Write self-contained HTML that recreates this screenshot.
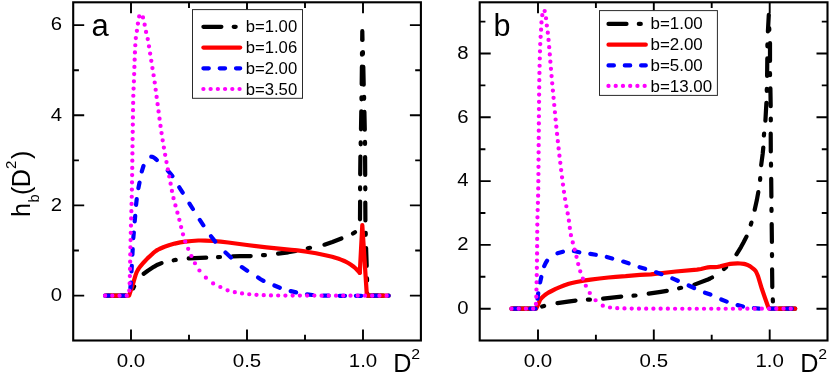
<!DOCTYPE html>
<html><head><meta charset="utf-8"><title>h_b(D^2)</title>
<style>
html,body{margin:0;padding:0;background:#fff;}
svg{display:block;will-change:transform;}
text{font-family:"Liberation Sans",sans-serif;fill:#000;}
</style></head><body>
<svg width="830" height="382" viewBox="0 0 830 382">
<rect width="830" height="382" fill="#fff"/>
<g id="panelA">
<path d="M107.5,295.7L125.5,295.7M133.2,288.4L134.1,286.4M143.7,273.7L147.8,270.7L153.8,266.8L157.6,264.7L161.5,263.1M173.7,260.3L175.7,259.9M188.7,258.4L206.2,257.7M218.0,257.1L220.0,257.0M232.7,256.4L239.9,256.2L250.7,256.1M263.0,255.2L264.9,255.1M278.1,253.7L288.2,252.3L295.8,250.9M307.8,248.3L310.0,247.8M324.5,244.7L332.4,242.0L341.4,238.5M353.0,233.5L355.0,232.2M360.0,219.3L360.1,201.5M360.1,189.3L360.1,187.4M360.2,174.3L360.4,156.5M360.7,144.3L360.7,142.3M361.0,129.3L361.3,111.4M361.5,99.3L361.5,97.3M361.7,84.2L361.9,66.7M362.0,54.7L362.0,52.8M362.2,40.0L362.3,31.2L362.5,40.0M362.9,52.0L362.9,53.9M363.3,66.8L363.7,84.7M364.1,96.8L364.1,98.8M364.4,111.9L364.8,129.7M365.0,141.9L365.0,143.9M365.1,157.0L365.2,175.0M365.3,187.3L365.3,189.3M365.3,202.5L365.4,220.5M365.7,232.8L365.7,234.8M366.1,248.0L366.7,266.0M367.0,278.3L367.1,280.3M367.4,293.5L367.5,295.7L383.3,295.7" fill="none" stroke="#000" stroke-width="4.2" stroke-linecap="round" stroke-linejoin="round"/>
<path d="M105.1,295.7L129.1,295.7L133.7,281.5L135.5,275.4L136.6,272.4L137.9,269.9L138.5,268.9L139.9,266.9L143.9,262.2L147.5,258.4L153.1,253.2L154.5,252.0L156.0,250.9L157.6,249.9L159.3,249.0L163.9,247.0L167.4,245.8L169.7,245.0L174.7,243.6L180.2,242.4L185.2,241.7L191.7,241.0L198.3,240.5L200.5,240.5L205.5,240.6L213.1,241.0L220.6,241.7L228.2,242.5L247.0,245.0L266.5,247.4L278.9,248.7L291.2,249.8L297.3,250.4L306.6,251.7L316.0,253.3L325.4,255.2L332.1,256.8L338.7,258.8L340.9,259.6L344.3,261.0L345.6,261.6L348.2,263.0L350.6,264.5L353.0,266.2L354.0,267.0L356.0,268.8L359.8,272.8" fill="none" stroke="#ff0000" stroke-width="4.2" stroke-linecap="round" stroke-linejoin="round"/>
<path d="M359.8,272.8L362.3,225.1L366.8,294.5L367.5,295.7L388.7,295.7" fill="none" stroke="#ff0000" stroke-width="4.2" stroke-linecap="round" stroke-linejoin="round"/>
<path d="M105.1,295.7L109.1,295.7M120.2,295.7L125.7,295.7M130.4,288.0L130.9,282.5M131.5,271.4L131.8,265.9M132.4,254.7L132.7,249.2M133.3,238.1L133.8,232.5M134.7,221.4L135.2,215.9M136.1,204.8L136.7,199.2M138.4,188.1L139.5,182.6M141.8,171.4L143.5,165.9M151.3,156.7L152.5,156.9L154.0,157.6L155.3,158.6L156.8,160.0M167.8,170.6L170.2,173.4L172.4,176.1M179.3,187.3L182.7,192.7M189.5,203.6L192.9,209.0M199.8,219.9L203.4,225.3M211.0,236.2L215.2,241.6M225.5,252.4L230.9,257.6M241.8,267.1L247.2,270.7M258.1,277.5L260.6,279.2L263.5,280.9M274.4,285.5L279.8,287.8M290.7,291.1L296.1,292.4M307.0,294.3L312.4,295.0M323.3,295.6L328.7,295.7M339.6,295.8L345.0,295.8M355.9,295.8L361.3,295.8M372.2,295.7L377.6,295.7M388.5,295.7L388.7,295.7" fill="none" stroke="#0000ff" stroke-width="4.2" stroke-linecap="round" stroke-linejoin="round"/>
<path d="M105.05,295.70h0.1M112.26,295.70h0.1M119.48,295.70h0.1M126.69,295.70h0.1M129.20,290.54h0.1M129.60,283.33h0.1M129.80,276.11h0.1M129.97,268.90h0.1M130.11,261.69h0.1M130.25,254.47h0.1M130.39,247.26h0.1M130.55,240.04h0.1M130.73,232.83h0.1M130.93,225.61h0.1M131.13,218.40h0.1M131.33,211.19h0.1M131.52,203.97h0.1M131.70,196.76h0.1M131.86,189.54h0.1M131.99,182.33h0.1M132.10,175.11h0.1M132.20,167.90h0.1M132.28,160.69h0.1M132.37,153.47h0.1M132.46,146.26h0.1M132.56,139.04h0.1M132.67,131.83h0.1M132.77,124.61h0.1M132.87,117.40h0.1M132.98,110.19h0.1M133.11,102.97h0.1M133.26,95.76h0.1M133.54,88.54h0.1M133.86,81.33h0.1M134.12,74.11h0.1M134.36,66.90h0.1M134.60,59.69h0.1M134.89,52.47h0.1M135.25,45.26h0.1M135.77,38.04h0.1M136.86,30.83h0.1M137.86,23.61h0.1M139.15,16.40h0.1M142.92,17.43h0.1M144.60,24.66h0.1M146.01,31.89h0.1M147.69,39.12h0.1M148.94,46.35h0.1M150.09,53.58h0.1M151.24,60.81h0.1M152.37,68.04h0.1M153.55,75.27h0.1M154.66,82.50h0.1M155.63,89.73h0.1M156.58,96.96h0.1M157.55,104.19h0.1M158.51,111.42h0.1M159.47,118.65h0.1M160.46,125.88h0.1M161.50,133.11h0.1M162.61,140.34h0.1M163.82,147.57h0.1M165.10,154.80h0.1M166.44,162.03h0.1M167.81,169.26h0.1M169.19,176.49h0.1M170.56,183.72h0.1M171.89,190.95h0.1M173.46,198.18h0.1M175.39,205.41h0.1M177.37,212.64h0.1M179.30,219.87h0.1M181.09,227.10h0.1M182.96,234.33h0.1M185.18,241.56h0.1M188.12,248.79h0.1M191.33,256.02h0.1M194.90,263.25h0.1M199.39,270.48h0.1M205.84,277.71h0.1M213.07,283.38h0.1M220.30,286.99h0.1M227.53,290.29h0.1M234.76,292.13h0.1M241.99,293.39h0.1M249.22,294.25h0.1M256.45,294.85h0.1M263.68,295.21h0.1M270.91,295.41h0.1M278.14,295.52h0.1M285.37,295.58h0.1M292.60,295.59h0.1M299.83,295.59h0.1M307.06,295.60h0.1M314.29,295.62h0.1M321.52,295.64h0.1M328.75,295.66h0.1M335.98,295.67h0.1M343.21,295.68h0.1M350.44,295.68h0.1M357.67,295.69h0.1M364.90,295.69h0.1M372.13,295.69h0.1M379.36,295.69h0.1M386.59,295.70h0.1" fill="none" stroke="#ff00ff" stroke-width="4.2" stroke-linecap="round" stroke-linejoin="round"/>
<rect x="73.2" y="2.3" width="347.7" height="338.2" fill="none" stroke="#000" stroke-width="2.1"/>
<path d="M131,340.5v-11.0M131,2.3v11.0M247,340.5v-11.0M247,2.3v11.0M363,340.5v-11.0M363,2.3v11.0M189,340.5v-5.7M189,2.3v5.7M305,340.5v-5.7M305,2.3v5.7M73.2,295.6h11.0M420.9,295.6h-11.0M73.2,205.4h11.0M420.9,205.4h-11.0M73.2,115.3h11.0M420.9,115.3h-11.0M73.2,25.1h11.0M420.9,25.1h-11.0M73.2,250.5h5.7M420.9,250.5h-5.7M73.2,160.4h5.7M420.9,160.4h-5.7M73.2,70.2h5.7M420.9,70.2h-5.7" stroke="#000" stroke-width="1.9" fill="none"/>
<text transform="translate(62.0,30.400000000000002) scale(1.08,1)" font-size="18.8" text-anchor="end">6</text>
<text transform="translate(62.0,120.6) scale(1.08,1)" font-size="18.8" text-anchor="end">4</text>
<text transform="translate(62.0,210.70000000000002) scale(1.08,1)" font-size="18.8" text-anchor="end">2</text>
<text transform="translate(62.0,300.90000000000003) scale(1.08,1)" font-size="18.8" text-anchor="end">0</text>
<text transform="translate(131,367.4) scale(1.09,1)" font-size="18.8" text-anchor="middle">0.0</text>
<text transform="translate(247,367.4) scale(1.09,1)" font-size="18.8" text-anchor="middle">0.5</text>
<text transform="translate(363,367.4) scale(1.09,1)" font-size="18.8" text-anchor="middle">1.0</text>
<text transform="translate(91.5,36.2) scale(1.0,1)" font-size="31" text-anchor="start">a</text>
<rect x="192.5" y="9.6" width="110.0" height="88.7" fill="#fff" stroke="#2a2a2a" stroke-width="1"/>
<path d="M203.4,26.8L221.4,26.8M233.7,26.8L235.7,26.8" fill="none" stroke="#000" stroke-width="4.2" stroke-linecap="round" stroke-linejoin="round"/>
<text transform="translate(245.7,31.7) scale(1.07,1)" font-size="15.6" text-anchor="start">b=1.00</text>
<path d="M203.4,47.6L240.2,47.6" fill="none" stroke="#ff0000" stroke-width="4.2" stroke-linecap="round" stroke-linejoin="round"/>
<text transform="translate(245.7,52.7) scale(1.07,1)" font-size="15.6" text-anchor="start">b=1.06</text>
<path d="M203.4,68.3L208.8,68.3M219.7,68.3L225.1,68.3M236.0,68.3L240.2,68.3" fill="none" stroke="#0000ff" stroke-width="4.2" stroke-linecap="round" stroke-linejoin="round"/>
<text transform="translate(245.7,73.5) scale(1.07,1)" font-size="15.6" text-anchor="start">b=2.00</text>
<path d="M203.35,89.00h0.1M210.58,89.00h0.1M217.81,89.00h0.1M225.04,89.00h0.1M232.27,89.00h0.1M239.50,89.00h0.1" fill="none" stroke="#ff00ff" stroke-width="4.2" stroke-linecap="round" stroke-linejoin="round"/>
<text transform="translate(245.7,94.5) scale(1.07,1)" font-size="15.6" text-anchor="start">b=3.50</text>
<text transform="translate(393.2,372.2) scale(1.0,1)" font-size="25.2" text-anchor="start">D</text>
<text transform="translate(411.2,358.6) scale(1.12,1)" font-size="14.2" text-anchor="start">2</text>
<text transform="translate(29.5,217.1) rotate(-90)" font-size="25.2">h</text>
<text transform="translate(39.1,202.4) rotate(-90)" font-size="14.6">b</text>
<text transform="translate(29.5,195.0) rotate(-90)" font-size="25.2">(</text>
<text transform="translate(29.5,187.3) rotate(-90)" font-size="25.2">D</text>
<text transform="translate(15.7,169.1) rotate(-90)" font-size="15.0">2</text>
<text transform="translate(29.5,158.9) rotate(-90)" font-size="25.2">)</text>
</g>
<g id="panelB">
<path d="M511.5,308.7L529.7,308.7M542.1,306.5L544.1,305.9M557.5,303.2L567.9,301.6L575.5,300.6M587.9,299.7L589.9,299.6M603.1,298.6L621.2,296.7M633.5,295.7L635.5,295.5M648.7,293.7L660.8,291.9L666.8,290.9M679.1,288.3L681.1,287.8M694.4,284.6L707.3,279.8L710.1,278.5L712.0,277.5M724.0,269.1L726.0,267.2M736.5,254.3L741.0,247.1L743.6,242.3L746.5,236.6M750.8,224.6L751.4,222.6M754.7,209.7L756.8,200.3L758.3,192.1M760.1,180.0L760.2,178.1M761.2,165.1L762.7,153.7L763.3,147.5M763.9,135.5L764.1,133.5M765.4,120.6L766.4,102.9M766.8,90.9L766.8,88.9M767.1,76.0L767.3,58.4M767.4,46.3L767.4,44.4M767.9,31.4L768.8,14.8L768.8,15.8M769.2,28.0L769.3,30.0M770.0,43.1L770.0,61.0M770.0,73.2L770.0,75.2M770.4,88.4L770.7,106.2M770.8,118.5L770.8,120.5M770.7,133.6L770.8,151.5M771.0,163.7L771.0,165.7M771.2,178.8L771.4,196.7M771.5,208.9L771.5,210.9M771.7,224.0L771.9,241.9M772.0,254.1L772.0,256.1M772.1,269.3L772.3,287.1M772.8,299.4L772.9,301.4M779.1,308.7L795.2,308.7" fill="none" stroke="#000" stroke-width="4.2" stroke-linecap="round" stroke-linejoin="round"/>
<path d="M511.5,308.7L536.2,308.7L538.2,304.5L539.8,300.5L540.5,299.3L541.2,298.4L542.5,297.1L544.6,295.2L546.3,294.0L548.6,292.5L551.6,291.0L555.7,288.9L559.2,287.4L564.5,285.3L568.9,283.8L571.9,283.0L576.5,282.0L583.5,280.7L590.6,279.6L599.5,278.5L608.4,277.5L615.7,276.8L625.6,276.2L640.0,274.9L650.8,274.3L675.9,271.5L697.0,269.6L701.0,269.0L706.0,267.8L708.0,267.4L710.3,267.2L715.0,267.2L717.3,267.0L720.2,266.4L727.4,264.5L730.3,263.9L733.4,263.6L737.7,263.4L740.3,263.5L743.9,263.9L746.0,264.4L747.7,265.0L748.8,265.6L749.9,266.2L752.8,268.4L754.4,269.7L755.7,271.2L756.2,272.0L757.1,274.0L758.0,276.1L758.7,278.3L761.3,287.1L762.0,289.3L765.1,298.3L767.5,305.0L768.4,307.4L769.5,308.7L795.2,308.7" fill="none" stroke="#ff0000" stroke-width="4.2" stroke-linecap="round" stroke-linejoin="round"/>
<path d="M513.9,308.7L519.3,308.7M530.2,308.7L535.6,308.7M537.5,298.7L538.2,293.3M540.1,282.4L541.3,277.0M544.2,266.1L545.6,263.2L547.1,260.7M557.5,253.3L562.9,251.7M573.9,251.0L579.3,252.3M590.3,253.9L595.8,254.8M606.8,257.0L612.2,258.5M623.2,261.6L628.6,263.3M639.6,267.2L645.1,268.8M656.1,272.3L661.5,274.2M672.4,278.4L677.8,280.7M688.7,285.5L694.1,288.0M705.0,292.7L710.4,294.6M721.3,299.5L726.7,301.6M737.6,305.1L743.0,306.5M753.9,308.2L759.3,308.6M770.2,308.7L775.6,308.7M786.5,308.7L791.9,308.7" fill="none" stroke="#0000ff" stroke-width="4.2" stroke-linecap="round" stroke-linejoin="round"/>
<path d="M511.45,308.70h0.1M518.67,308.70h0.1M525.89,308.70h0.1M533.10,308.70h0.1M535.93,303.93h0.1M536.24,296.71h0.1M536.42,289.49h0.1M536.57,282.27h0.1M536.71,275.05h0.1M536.83,267.84h0.1M536.94,260.62h0.1M537.03,253.40h0.1M537.09,246.18h0.1M537.14,238.96h0.1M537.20,231.75h0.1M537.28,224.53h0.1M537.41,217.31h0.1M537.62,210.09h0.1M537.86,202.87h0.1M538.07,195.65h0.1M538.20,188.44h0.1M538.30,181.22h0.1M538.38,174.00h0.1M538.44,166.78h0.1M538.50,159.56h0.1M538.56,152.35h0.1M538.61,145.13h0.1M538.68,137.91h0.1M538.74,130.69h0.1M538.80,123.47h0.1M538.86,116.25h0.1M538.92,109.04h0.1M538.99,101.82h0.1M539.06,94.60h0.1M539.15,87.38h0.1M539.25,80.16h0.1M539.39,72.95h0.1M539.55,65.73h0.1M539.73,58.51h0.1M539.94,51.29h0.1M540.19,44.07h0.1M540.59,36.85h0.1M541.04,29.64h0.1M541.44,22.42h0.1M542.25,15.20h0.1M544.61,11.03h0.1M545.97,18.26h0.1M546.77,25.49h0.1M547.74,32.72h0.1M548.49,39.95h0.1M549.14,47.18h0.1M549.74,54.41h0.1M550.32,61.64h0.1M550.90,68.87h0.1M551.51,76.10h0.1M552.16,83.33h0.1M552.83,90.56h0.1M553.52,97.79h0.1M554.20,105.02h0.1M554.88,112.25h0.1M555.56,119.48h0.1M556.27,126.71h0.1M557.00,133.94h0.1M557.77,141.17h0.1M558.57,148.40h0.1M559.39,155.63h0.1M560.24,162.86h0.1M561.10,170.09h0.1M562.00,177.32h0.1M562.94,184.55h0.1M563.92,191.78h0.1M565.04,199.01h0.1M566.32,206.24h0.1M567.64,213.47h0.1M568.85,220.70h0.1M569.77,227.93h0.1M570.88,235.16h0.1M572.70,242.39h0.1M574.59,249.62h0.1M576.46,256.85h0.1M578.17,264.08h0.1M580.20,271.31h0.1M582.81,278.54h0.1M585.77,285.77h0.1M589.74,293.00h0.1M595.52,300.23h0.1M602.74,305.68h0.1M609.97,307.51h0.1M617.20,308.17h0.1M624.43,308.43h0.1M631.66,308.59h0.1M638.89,308.67h0.1M646.12,308.69h0.1M653.35,308.70h0.1M660.58,308.71h0.1M667.81,308.72h0.1M675.04,308.73h0.1M682.27,308.73h0.1M689.50,308.74h0.1M696.73,308.74h0.1M703.96,308.74h0.1M711.19,308.74h0.1M718.42,308.74h0.1M725.65,308.73h0.1M732.88,308.73h0.1M740.11,308.73h0.1M747.34,308.72h0.1M754.57,308.72h0.1M761.80,308.72h0.1M769.03,308.71h0.1M776.26,308.71h0.1M783.49,308.70h0.1M790.72,308.70h0.1" fill="none" stroke="#ff00ff" stroke-width="4.2" stroke-linecap="round" stroke-linejoin="round"/>
<rect x="479.7" y="2.3" width="347.8" height="338.2" fill="none" stroke="#000" stroke-width="2.1"/>
<path d="M538,340.5v-11.0M538,2.3v11.0M653.8,340.5v-11.0M653.8,2.3v11.0M769.7,340.5v-11.0M769.7,2.3v11.0M595.9,340.5v-5.7M595.9,2.3v5.7M711.7,340.5v-5.7M711.7,2.3v5.7M479.7,308.7h11.0M827.5,308.7h-11.0M479.7,244.9h11.0M827.5,244.9h-11.0M479.7,181.1h11.0M827.5,181.1h-11.0M479.7,117.3h11.0M827.5,117.3h-11.0M479.7,53.5h11.0M827.5,53.5h-11.0M479.7,276.8h5.7M827.5,276.8h-5.7M479.7,213h5.7M827.5,213h-5.7M479.7,149.2h5.7M827.5,149.2h-5.7M479.7,85.4h5.7M827.5,85.4h-5.7M479.7,21.6h5.7M827.5,21.6h-5.7" stroke="#000" stroke-width="1.9" fill="none"/>
<text transform="translate(468.5,58.8) scale(1.08,1)" font-size="18.8" text-anchor="end">8</text>
<text transform="translate(468.5,122.6) scale(1.08,1)" font-size="18.8" text-anchor="end">6</text>
<text transform="translate(468.5,186.4) scale(1.08,1)" font-size="18.8" text-anchor="end">4</text>
<text transform="translate(468.5,250.20000000000002) scale(1.08,1)" font-size="18.8" text-anchor="end">2</text>
<text transform="translate(468.5,314.0) scale(1.08,1)" font-size="18.8" text-anchor="end">0</text>
<text transform="translate(538,367.4) scale(1.09,1)" font-size="18.8" text-anchor="middle">0.0</text>
<text transform="translate(653.8,367.4) scale(1.09,1)" font-size="18.8" text-anchor="middle">0.5</text>
<text transform="translate(769.7,367.4) scale(1.09,1)" font-size="18.8" text-anchor="middle">1.0</text>
<text transform="translate(493.6,35.5) scale(1.0,1)" font-size="30.5" text-anchor="start">b</text>
<rect x="599.5" y="10.6" width="117.9" height="84.8" fill="#fff" stroke="#2a2a2a" stroke-width="1"/>
<path d="M608.5,23.9L626.5,23.9M638.8,23.9L640.8,23.9" fill="none" stroke="#000" stroke-width="4.2" stroke-linecap="round" stroke-linejoin="round"/>
<text transform="translate(650.5,29.1) scale(1.085,1)" font-size="15.6" text-anchor="start">b=1.00</text>
<path d="M608.5,44.7L645.8,44.7" fill="none" stroke="#ff0000" stroke-width="4.2" stroke-linecap="round" stroke-linejoin="round"/>
<text transform="translate(650.5,50.1) scale(1.085,1)" font-size="15.6" text-anchor="start">b=2.00</text>
<path d="M608.5,65.4L613.9,65.4M624.8,65.4L630.2,65.4M641.1,65.4L645.8,65.4" fill="none" stroke="#0000ff" stroke-width="4.2" stroke-linecap="round" stroke-linejoin="round"/>
<text transform="translate(650.5,70.7) scale(1.085,1)" font-size="15.6" text-anchor="start">b=5.00</text>
<path d="M608.45,85.90h0.1M615.68,85.90h0.1M622.91,85.90h0.1M630.14,85.90h0.1M637.37,85.90h0.1M644.60,85.90h0.1" fill="none" stroke="#ff00ff" stroke-width="4.2" stroke-linecap="round" stroke-linejoin="round"/>
<text transform="translate(650.5,91.5) scale(1.085,1)" font-size="15.6" text-anchor="start">b=13.00</text>
<text transform="translate(800.3,372.2) scale(1.0,1)" font-size="25.2" text-anchor="start">D</text>
<text transform="translate(818.3,358.6) scale(1.12,1)" font-size="14.2" text-anchor="start">2</text>
</g>
</svg></body></html>
